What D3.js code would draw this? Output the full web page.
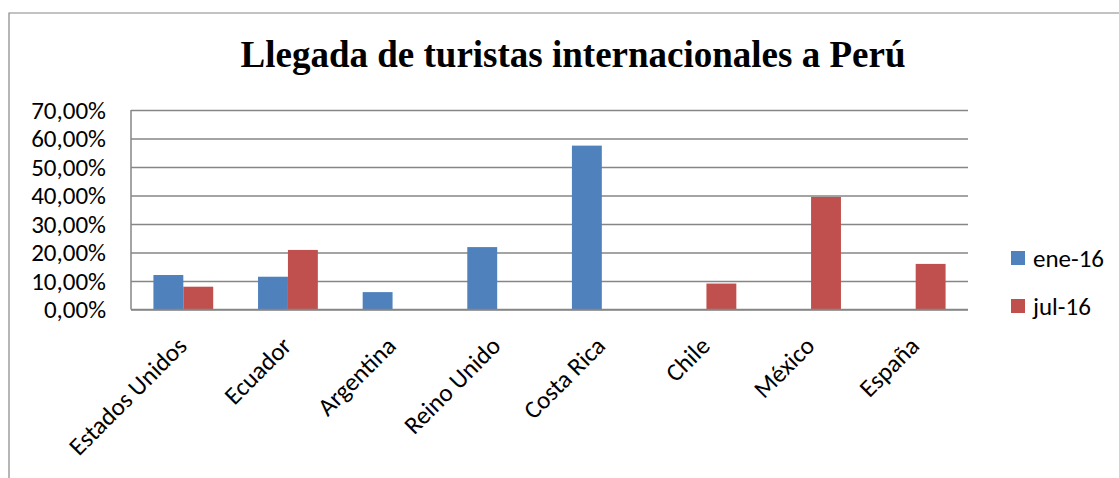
<!DOCTYPE html>
<html>
<head>
<meta charset="utf-8">
<script src="https://cdn.jsdelivr.net/npm/d3@7"></script>
<style>
  body { margin: 0; background: #fff; }
  text { font-family: Carlito, Calibri, Lato, sans-serif; }
</style>
</head>
<body>
<div class="chart-wrapper"></div>
<script>
const categories = ['Estados Unidos', 'Ecuador', 'Argentina', 'Reino Unido', 'Costa Rica', 'Chile', 'México', 'España']
const seriesNames = ['ene-16', 'jul-16']
const ene16 = [0.121, 0.115, 0.061, 0.219, 0.575, null, null, null]
const jul16 = [0.080, 0.209, null, null, null, 0.091, 0.395, 0.160]
const yTicks = [0, 0.1, 0.2, 0.3, 0.4, 0.5, 0.6, 0.7]
const colors = ['#4f81bd', '#c0504d']

const width = 1119
const height = 478
const plot = { left: 131, right: 968, top: 110, bottom: 309.5 }
const labelSize = '25px'

const svg = d3.select('.chart-wrapper')
  .append('svg')
  .attr('width', width)
  .attr('height', height)

// chart frame
svg.append('path')
  .attr('d', `M9,${height} V13 H${width}`)
  .attr('fill', 'none')
  .attr('stroke', '#868686')
  .attr('stroke-width', 1.2)

svg.append('text')
  .attr('x', 573)
  .attr('y', 67)
  .attr('text-anchor', 'middle')
  .style('font-family', '"Liberation Serif", "Times New Roman", serif')
  .style('font-weight', 'bold')
  .style('font-size', '37px')
  .text('Llegada de turistas internacionales a Perú')

const y = d3.scaleLinear()
  .domain([0, 0.7])
  .range([plot.bottom, plot.top])

const x = d3.scaleBand()
  .domain(categories)
  .range([plot.left, plot.right])
  .paddingInner(1.5 / 3.5)
  .paddingOuter(0.75 / 3.5)

const xs = d3.scaleBand()
  .domain(seriesNames)
  .range([0, x.bandwidth()])

const fmt = v => d3.format('.2f')(v * 100).replace('.', ',') + '%'

// gridlines + y labels
const yAxis = d3.axisLeft(y)
  .tickValues(yTicks)
  .tickSize(-(plot.right - plot.left))
  .tickPadding(25)
  .tickFormat(fmt)

const gy = svg.append('g')
  .attr('transform', `translate(${plot.left},0)`)
  .call(yAxis)

gy.select('.domain').remove()
gy.selectAll('line')
  .attr('stroke', '#868686')
  .attr('stroke-width', 1.5)
gy.selectAll('text')
  .attr('fill', '#000')
  .style('font-size', labelSize)

svg.append('line')
  .attr('x1', plot.left).attr('x2', plot.left)
  .attr('y1', plot.top).attr('y2', plot.bottom)
  .attr('stroke', '#868686')
  .attr('stroke-width', 1.5)

// bars
const series = [ene16, jul16]

series.forEach((vals, si) => {
  svg.append('g')
    .selectAll('rect')
    .data(categories.map((c, i) => ({ c, v: vals[i] })).filter(d => d.v != null))
    .enter()
    .append('rect')
    .attr('x', d => x(d.c) + xs(seriesNames[si]))
    .attr('y', d => y(d.v))
    .attr('width', xs.bandwidth())
    .attr('height', d => y(0) - y(d.v))
    .attr('fill', colors[si])
})

// x axis line + labels
svg.append('line')
  .attr('x1', plot.left).attr('x2', plot.right)
  .attr('y1', y(0)).attr('y2', y(0))
  .attr('stroke', '#868686')
  .attr('stroke-width', 1.5)

svg.append('g')
  .selectAll('text')
  .data(categories)
  .enter()
  .append('text')
  .attr('text-anchor', 'end')
  .attr('transform', d => `translate(${x(d) + x.bandwidth() / 2 + 5},${plot.bottom + 38}) rotate(-45)`)
  .style('font-size', labelSize)
  .text(d => d)

// legend
const legend = svg.append('g')
  .selectAll('g')
  .data(seriesNames)
  .enter()
  .append('g')
  .attr('transform', (d, i) => `translate(1011,${251 + i * 48})`)

legend.append('rect')
  .attr('width', 14)
  .attr('height', 14)
  .attr('fill', (d, i) => colors[i])

legend.append('text')
  .attr('x', 22)
  .attr('y', 16)
  .style('font-size', labelSize)
  .text(d => d)
</script>
</body>
</html>
